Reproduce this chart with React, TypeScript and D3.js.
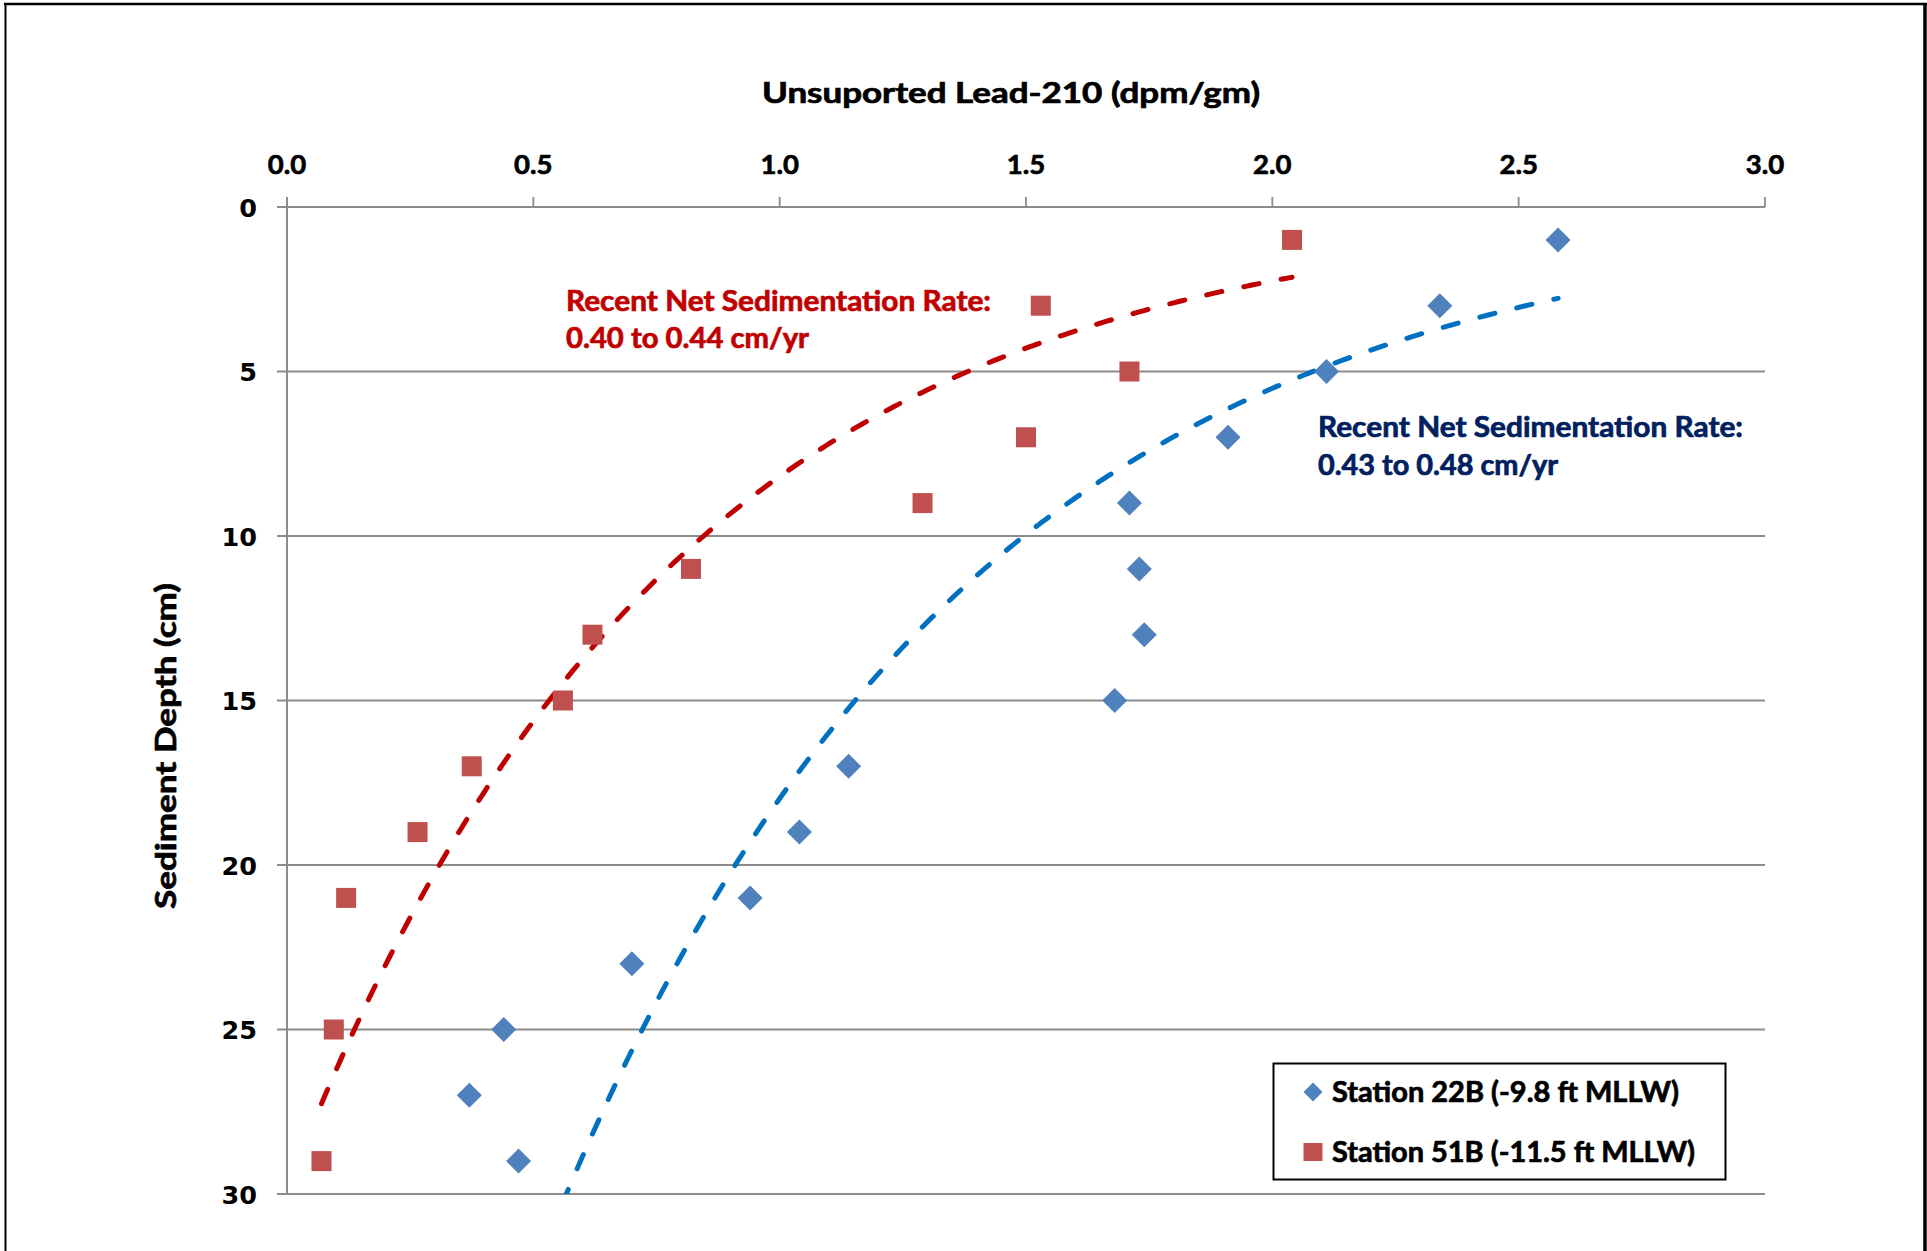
import React from "react";
import * as d3 from "d3";

// ---- Data ----
const xTicks = [0, 0.5, 1.0, 1.5, 2.0, 2.5, 3.0];
const yTicks = [0, 5, 10, 15, 20, 25, 30];

const station22Depth = [1, 3, 5, 7, 9, 11, 13, 15, 17, 19, 21, 23, 25, 27, 29];
const station22Pb = [2.58, 2.34, 2.11, 1.91, 1.71, 1.73, 1.74, 1.68, 1.14, 1.04, 0.94, 0.70, 0.44, 0.37, 0.47];

const station51Depth = [1, 3, 5, 7, 9, 11, 13, 15, 17, 19, 21, 25, 29];
const station51Pb = [2.04, 1.53, 1.71, 1.50, 1.29, 0.82, 0.62, 0.56, 0.375, 0.265, 0.12, 0.095, 0.07];

const xTitle = "Unsuported Lead-210 (dpm/gm)";
const yTitle = "Sediment Depth (cm)";
const legendLabels = ["Station 22B (-9.8 ft MLLW)", "Station 51B (-11.5 ft MLLW)"];
const redNote = ["Recent Net Sedimentation Rate:", "0.40 to 0.44 cm/yr"];
const blueNote = ["Recent Net Sedimentation Rate:", "0.43 to 0.48 cm/yr"];

// ---- Styling ----
const W = 1927;
const H = 1251;
const FONT = "Lato, 'Open Sans', 'Liberation Sans', sans-serif";
const TICKFONT = "'DejaVu Sans', Verdana, sans-serif";
const BLUE = "#4F81BD";
const RED = "#C0504D";
const BLUE_TREND = "#0070C0";
const RED_TREND = "#C00000";
const GRID = "#8C8C8C";

// Excel-style exponential trendline: depth = a * exp(b * x) (least squares on ln depth)
function expFit(xs: number[], ys: number[]) {
  const ly = ys.map((v) => Math.log(v));
  const mx = d3.mean(xs) as number;
  const my = d3.mean(ly) as number;
  let sxy = 0;
  let sxx = 0;
  xs.forEach((x, i) => {
    sxy += (x - mx) * (ly[i] - my);
    sxx += (x - mx) * (x - mx);
  });
  const b = sxy / sxx;
  const a = Math.exp(my - b * mx);
  return { a, b };
}

function trendPoints(xs: number[], ys: number[]) {
  const { a, b } = expFit(xs, ys);
  const [lo, hi] = d3.extent(xs) as [number, number];
  return d3.range(0, 301).map((i) => {
    const x = lo + ((hi - lo) * i) / 300;
    return [x, a * Math.exp(b * x)] as [number, number];
  });
}

const bold = (color: string) => ({
  fontFamily: FONT,
  fontWeight: 700,
  fill: color,
  stroke: color,
  strokeWidth: 0.7,
});

export default function App() {
  const x = d3.scaleLinear().domain([0, 3]).range([287, 1765]);
  const y = d3.scaleLinear().domain([0, 30]).range([207, 1194]);

  const line = d3
    .line<[number, number]>()
    .x((d) => x(d[0]))
    .y((d) => y(d[1]));

  const blueTrend = trendPoints(station22Pb, station22Depth);
  const redTrend = trendPoints(station51Pb, station51Depth);

  const [x0, x1] = x.range();
  const [y0, y1] = y.range();

  const diamond = (r: number) => `M0,${-r}L${r},0L0,${r}L${-r},0Z`;

  return (
    <div style={{ position: "absolute", left: 0, top: 0, width: W, height: H, background: "#fff" }}>
      <svg width={W} height={H} viewBox={`0 0 ${W} ${H}`} style={{ display: "block" }}>
        <defs>
          <clipPath id="plotClip">
            <rect x={x0} y={y0} width={x1 - x0} height={y1 - y0} />
          </clipPath>
        </defs>
        <rect x={0} y={0} width={W} height={H} fill="#fff" />

        {/* frame */}
        <line x1={4} y1={4} x2={W} y2={4} stroke="#000" strokeWidth={2.5} />
        <line x1={5.5} y1={4} x2={5.5} y2={H} stroke="#000" strokeWidth={2} />
        <line x1={1925} y1={4} x2={1925} y2={H} stroke="#000" strokeWidth={3.5} />

        {/* horizontal gridlines with left ticks */}
        {yTicks.map((t) => (
          <line key={"g" + t} x1={x0 - 10} x2={x1} y1={y(t)} y2={y(t)} stroke={GRID} strokeWidth={t === 0 ? 2.2 : 1.8} />
        ))}
        {/* top axis tick marks */}
        {xTicks.map((t) => (
          <line key={"xt" + t} x1={x(t)} x2={x(t)} y1={y0 - 10} y2={y0} stroke={GRID} strokeWidth={1.8} />
        ))}
        {/* vertical axis */}
        <line x1={x0} x2={x0} y1={y0 - 10} y2={y1} stroke={GRID} strokeWidth={2} />

        {/* x tick labels (top) */}
        {xTicks.map((t) => (
          <text key={"xl" + t} x={x(t)} y={174} textAnchor="middle" {...bold("#000")} fontSize={27.5}>
            {d3.format(".1f")(t)}
          </text>
        ))}
        {/* y tick labels */}
        {yTicks.map((t) => (
          <text key={"yl" + t} x={257} y={y(t) + 9.5} textAnchor="end" fontFamily={TICKFONT} fontWeight={700} fontSize={25.5} fill="#000">
            {t}
          </text>
        ))}

        {/* axis titles */}
        <text x={1011} y={103} textAnchor="middle" {...bold("#000")} fontSize={28} textLength={498} lengthAdjust="spacingAndGlyphs">
          {xTitle}
        </text>
        <text transform="translate(176,746) rotate(-90)" textAnchor="middle" {...bold("#000")} fontSize={28} textLength={326} lengthAdjust="spacingAndGlyphs">
          {yTitle}
        </text>

        {/* trendlines */}
        <g clipPath="url(#plotClip)">
          <path d={line(redTrend) || ""} fill="none" stroke={RED_TREND} strokeWidth={5} strokeDasharray="15.5 22.5" strokeLinecap="round" />
          <path d={line(blueTrend) || ""} fill="none" stroke={BLUE_TREND} strokeWidth={5} strokeDasharray="15.5 22.5" strokeLinecap="round" />
        </g>

        {/* markers */}
        {station22Pb.map((v, i) => (
          <path key={"b" + i} d={diamond(12.5)} transform={`translate(${x(v)},${y(station22Depth[i])})`} fill={BLUE} />
        ))}
        {station51Pb.map((v, i) => (
          <rect key={"r" + i} x={x(v) - 10} y={y(station51Depth[i]) - 10} width={20} height={20} fill={RED} />
        ))}

        {/* annotations */}
        <text {...bold("#C00000")} fontSize={28}>
          <tspan x={566} y={311} textLength={425} lengthAdjust="spacingAndGlyphs">{redNote[0]}</tspan>
          <tspan x={566} y={348} textLength={243} lengthAdjust="spacingAndGlyphs">{redNote[1]}</tspan>
        </text>
        <text {...bold("#002060")} fontSize={28}>
          <tspan x={1318} y={437} textLength={425} lengthAdjust="spacingAndGlyphs">{blueNote[0]}</tspan>
          <tspan x={1318} y={475} textLength={240} lengthAdjust="spacingAndGlyphs">{blueNote[1]}</tspan>
        </text>

        {/* legend */}
        <rect x={1273.5} y={1063.5} width={452} height={116} fill="#fff" stroke="#000" strokeWidth={2} />
        <path d={diamond(9.5)} transform="translate(1313,1092)" fill={BLUE} />
        <rect x={1303.5} y={1143} width={19} height={18} fill={RED} />
        <text x={1332} y={1102} {...bold("#000")} fontSize={28} textLength={347} lengthAdjust="spacingAndGlyphs">
          {legendLabels[0]}
        </text>
        <text x={1332} y={1162} {...bold("#000")} fontSize={28} textLength={363} lengthAdjust="spacingAndGlyphs">
          {legendLabels[1]}
        </text>
      </svg>
    </div>
  );
}
